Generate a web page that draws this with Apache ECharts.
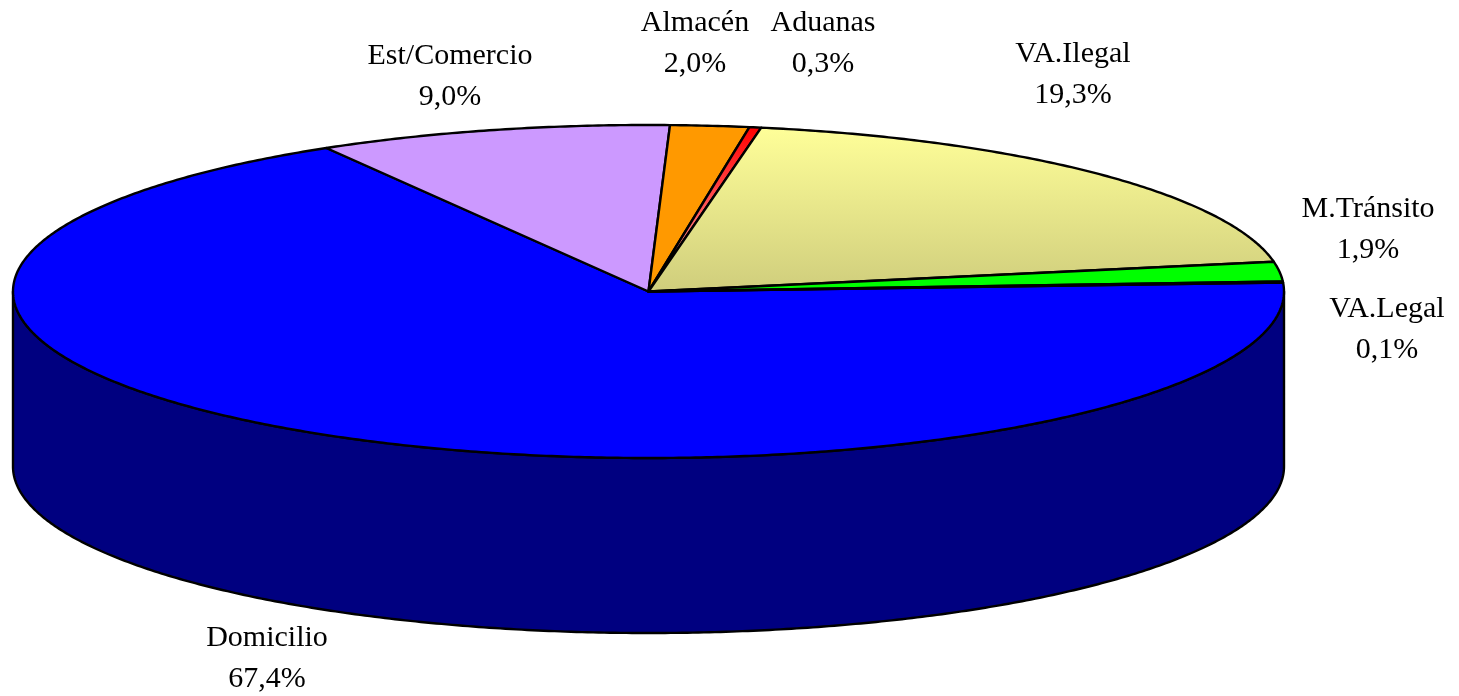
<!DOCTYPE html>
<html>
<head>
<meta charset="utf-8">
<style>html,body{margin:0;padding:0;background:#fff}#c{width:1459px;height:696px}</style>
<script src="https://cdn.jsdelivr.net/npm/echarts@6/dist/echarts.min.js"></script>
</head>
<body>
<div id="c"></div>
<script>
// Data, clockwise from the right edge of the pie
const categories = ['Domicilio', 'Est/Comercio', 'Almacén', 'Aduanas', 'VA.Ilegal', 'M.Tránsito', 'VA.Legal'];
const shares = [67.4, 9.0, 2.0, 0.3, 19.3, 1.9, 0.1];

// Styling, same order as categories
const topColors = [
  '#0000FF', '#CC99FF', '#FF9900',
  { type: 'linear', x: 0, y: 0, x2: 0, y2: 1, colorStops: [{ offset: 0, color: '#FF0000' }, { offset: 1, color: '#FFB4B4' }] },
  { type: 'linear', x: 0, y: 0, x2: 0, y2: 1, colorStops: [{ offset: 0, color: '#FFFF99' }, { offset: 1, color: '#CFCD7C' }] },
  '#00FF00', '#CCCCFF'
];
const wallColors = ['#000080', '#660066', '#995C00', '#800000', '#808040', '#008000', '#666680'];

// Label centres (first line, second line is one step lower)
const labelX = [267, 450, 695, 823, 1073, 1368, 1387];
const labelY = [638, 56, 23, 23, 54, 209, 309];
const labelStep = 41;

// Pie geometry
const cx = 648.5, cy = 291.5, rx = 635.5, ry = 166.5, depth = 175, startDeg = 3.1;
const total = shares.reduce((a, b) => a + b, 0);
const rad = d => d * Math.PI / 180;
const rimPoint = (deg, dy) => [cx + rx * Math.cos(rad(deg)), cy + dy - ry * Math.sin(rad(deg))];

function arc(fromDeg, toDeg, dy) {
  const n = Math.max(2, Math.ceil(Math.abs(toDeg - fromDeg) * 2));
  const pts = [];
  for (let i = 0; i <= n; i++) pts.push(rimPoint(fromDeg + (toDeg - fromDeg) * i / n, dy));
  return pts;
}

function renderSlice(params, api) {
  const i = api.value(0);
  let before = 0;
  for (let k = 0; k < i; k++) before += shares[k];
  const from = startDeg - before / total * 360;
  const to = from - api.value(1) / total * 360;
  const line = { stroke: '#000', lineWidth: 2.4, lineJoin: 'round' };
  const children = [];

  // Side wall: only the part of the slice on the front half of the rim
  const a = Math.min(from, 0), b = Math.max(to, -180);
  if (a > b) {
    children.push({
      type: 'polygon',
      shape: { points: arc(a, b, 0).concat(arc(b, a, depth)) },
      style: Object.assign({ fill: wallColors[i] }, line)
    });
  }

  // Top face
  children.push({
    type: 'polygon',
    shape: { points: [[cx, cy]].concat(arc(from, to, 0)) },
    style: Object.assign({ fill: topColors[i] }, line)
  });

  // Label
  const font = '30px "Liberation Serif", "Times New Roman", serif';
  [categories[i], api.value(1).toFixed(1).replace('.', ',') + '%'].forEach((t, k) => {
    children.push({
      type: 'text',
      style: { text: t, x: labelX[i], y: labelY[i] + k * labelStep, font: font, fill: '#000', align: 'center', verticalAlign: 'middle' }
    });
  });

  return { type: 'group', children: children };
}

const chart = echarts.init(document.getElementById('c'), null, { renderer: 'canvas' });
chart.setOption({
  animation: false,
  backgroundColor: '#fff',
  series: [{
    type: 'custom',
    coordinateSystem: 'none',
    renderItem: renderSlice,
    silent: true,
    data: shares.map((v, i) => [i, v])
  }]
});
</script>
</body>
</html>
